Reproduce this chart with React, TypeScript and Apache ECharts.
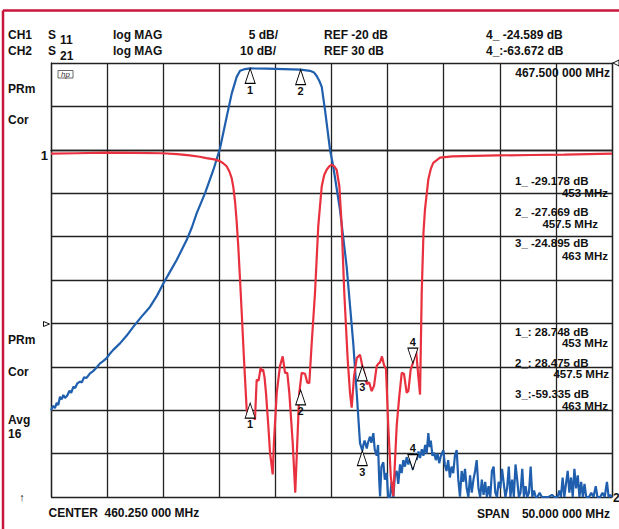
import React, { useEffect, useRef } from "react";
import * as echarts from "echarts";

// Sweep: CENTER 460.25 MHz, SPAN 50 MHz
const CENTER = 460.25;
const SPAN = 50;
const START = CENTER - SPAN / 2;

// CH1: S11 log MAG, 5 dB/div, REF -20 dB
const s11Freq = [
  435.25, 437.5, 440.2, 442.5, 445.2, 446.5, 447.6, 448.5, 449.1, 449.8, 450.3, 450.6, 450.9, 451.15,
  451.36, 451.5, 451.65, 451.8, 451.94, 452.1, 452.25, 452.45, 452.69, 452.92, 453.14, 453.3, 453.43,
  453.58, 453.75, 453.94, 454.05, 454.15, 454.28, 454.41, 454.62, 454.77, 455.01, 455.12, 455.37,
  455.66, 455.9, 456.11, 456.31, 456.49, 456.79, 457.02, 457.2, 457.38, 457.59, 457.89, 458.09,
  458.27, 458.49, 458.78, 459.07, 459.38, 459.6, 459.82, 460.05, 460.27, 460.5, 460.71, 460.95,
  461.16, 461.39, 461.69, 461.9, 462.05, 462.26, 462.5, 462.79, 463.0, 463.21, 463.39, 463.6,
  463.83, 464.04, 464.28, 464.45, 464.57, 464.75, 464.93, 465.11, 465.31, 465.53, 465.76, 466.06,
  466.29, 466.51, 466.71, 466.95, 467.1, 467.31, 467.5, 467.78, 467.99, 468.14, 468.29, 468.45,
  468.58, 468.88, 469.1, 469.32, 469.92, 471, 473, 475, 478, 481, 485.25,
];
const s11Db = [
  -0.45, -0.4, -0.33, -0.35, -0.4, -0.5, -0.65, -0.8, -0.95, -1.1, -1.3, -1.55, -1.9, -2.5,
  -3.3, -4.3, -5.9, -8.3, -11.1, -15.0, -18.8, -24.1, -29.9, -30.9, -30.3, -30.7, -31.1,
  -26.5, -26.6, -25.1, -25.5, -25.3, -26.2, -28.0, -31.8, -34.9, -37.4, -33.7, -28.0,
  -24.9, -23.8, -25.7, -25.7, -28.0, -33.7, -39.5, -33.7, -28.0, -25.7, -25.8, -26.8,
  -26.9, -22.2, -16.5, -8.8, -4.2, -2.9, -2.3, -1.9, -1.7, -1.9, -2.3, -4.2,
  -8.8, -16.5, -24.1, -28.0, -29.7, -26.1, -24.0, -23.6, -24.9, -25.9, -27.0, -26.8,
  -27.8, -27.2, -24.9, -24.6, -24.5, -23.8, -24.8, -25.3, -31.8, -37.6, -39.9, -31.8,
  -28.4, -25.7, -25.8, -28.0, -27.8, -25.3, -24.6, -23.0, -26.1, -28.2, -16.5, -9.5,
  -6.9, -3.4, -2.2, -1.5, -0.9, -0.75, -0.7, -0.65, -0.6, -0.55, -0.45,
];

// CH2: S21 log MAG, 10 dB/div, REF 30 dB
const s21Freq = [
  435.25, 435.45, 435.6, 435.76, 435.9, 436.05, 436.2, 436.35, 436.5, 436.7, 436.9, 437.05, 437.24,
  437.4, 437.6, 437.83, 438.0, 438.2, 438.4, 438.73, 439.0, 439.3, 439.62, 439.9, 440.21, 440.5,
  440.8, 441.4, 442.0, 442.58, 443.3, 444.07, 444.7, 445.26, 445.9, 446.45, 447.34, 447.8, 448.24,
  448.98, 449.72, 450.31, 450.91, 451.36, 451.8, 452.1, 452.54, 453, 454.5, 456, 457.5, 458.33,
  458.7, 458.93, 459.18, 459.38, 459.67, 460.12, 460.41, 461.01, 461.6, 462.19, 462.5, 462.79,
  463.0, 463.09, 463.2, 463.39, 463.5, 463.68, 463.8, 463.98, 464.1, 464.28, 464.4, 464.5, 464.58,
  464.7, 464.87, 465.0, 465.17, 465.3, 465.47, 465.6, 465.76, 465.9, 466.06, 466.2, 466.36, 466.5,
  466.65, 466.8, 466.95, 467.1, 467.25, 467.5, 467.7, 467.84, 468.0, 468.14, 468.3, 468.44, 468.6,
  468.73, 468.88, 469.0, 469.1, 469.25, 469.4, 469.55, 469.7, 469.85, 470.0, 470.22, 470.35, 470.5,
  470.65, 470.8, 470.95, 471.1, 471.25, 471.41, 471.55, 471.7, 471.85, 472.0, 472.15, 472.3, 472.45,
  472.6, 472.75, 472.9, 473.05, 473.19, 473.35, 473.5, 473.65, 473.8, 473.95, 474.1, 474.25, 474.4,
  474.55, 474.7, 474.85, 475.0, 475.15, 475.3, 475.45, 475.6, 475.75, 475.9, 476.05, 476.2, 476.35,
  476.5, 476.65, 476.8, 476.95, 477.1, 477.25, 477.4, 477.55, 477.7, 477.85, 478.0, 478.15, 478.3,
  478.45, 478.6, 478.8, 479.0, 479.3, 479.6, 479.9, 480.1, 480.4, 480.55, 480.7, 480.85, 481.0,
  481.15, 481.3, 481.45, 481.6, 481.75, 481.9, 482.05, 482.2, 482.35, 482.5, 482.65, 482.8, 482.95,
  483.2, 483.4, 483.6, 483.8, 483.95, 484.2, 484.4, 484.6, 484.8, 484.95, 485.1, 485.25,
];
const s21Db = [
  -50.0, -49.0, -49.5, -48.3, -48.8, -46.9, -47.5, -46.5, -47.2, -46.6, -45.5, -46.0, -44.6,
  -44.9, -43.8, -43.4, -43.6, -42.4, -42.6, -41.5, -41.0, -40.2, -39.2, -38.7, -38.0, -37.0,
  -36.1, -34.6, -32.8, -30.8, -28.5, -26.2, -23.6, -20.8, -17.9, -15.4, -10.8, -7.9, -4.6,
  0.0, 5.35, 10.3, 17.6, 23.0, 26.8, 28.2, 28.6, 28.748, 28.7, 28.6, 28.475, 28.2,
  27.8, 27.0, 25.8, 24.5, 19.2, 10.0, 6.1, -3.9, -16.9, -34.6, -46.1, -57.6,
  -59.3, -58.0, -57.0, -58.8, -57.5, -56.1, -57.5, -55.3, -59.0, -60.5, -58.0, -66.0, -69.9,
  -63.0, -62.0, -66.0, -64.5, -70, -70, -66.5, -70, -65.0, -64.0, -67.0, -62.5, -64.5,
  -61.5, -63.0, -60.8, -62.5, -61.2, -63.67, -60.0, -61.5, -59.5, -61.0, -59.0, -60.5, -58.0,
  -60.0, -55.3, -58.5, -57.0, -60.5, -59.8, -61.5, -60.0, -62.2, -60.5, -59.2, -62.5, -64.0,
  -61.5, -65.5, -63.0, -64.5, -60.5, -59.2, -66.0, -69.9, -64.0, -66.5, -63.5, -68.0, -70,
  -65.0, -69.0, -66.0, -64.0, -61.5, -68.0, -70, -66.0, -69.5, -66.5, -70, -67.5, -70,
  -64.0, -63.0, -69.0, -70, -66.5, -68.0, -63.5, -66.8, -70, -68.0, -63.0, -70, -66.0,
  -70, -62.5, -66.0, -70, -69.0, -63.5, -70, -67.5, -70, -69.0, -63.0, -70, -68.5,
  -70, -70, -69.0, -70, -70, -70, -69.5, -70, -70, -68.5, -70, -65.5, -70,
  -67.0, -64.0, -69.0, -65.5, -70, -63.5, -68.0, -65.0, -70, -66.5, -70, -67.0, -70,
  -70, -69.0, -70, -67.5, -70, -70, -69.0, -70, -66.5, -70, -69.5, -70,
];

// Markers
const markerNames = ["1", "2", "3", "4"];
const markerFreq = [453, 457.5, 463, 467.5];
const markerS11 = [-29.178, -27.669, -24.895, -24.589];
const markerS21 = [28.748, 28.475, -59.335, -63.672];

const RED = "#e8303e";
const BLUE = "#1f5fae";
const FONT = '"Liberation Sans", Arial, Helvetica, sans-serif';
const UP = "path://M5,0 L10,15 L0,15 Z";
const DOWN = "path://M0,0 L10,0 L5,15 Z";

function txt(text: string, x: number, y: number, size = 12, align = "left", weight = "bold") {
  return {
    type: "text",
    x,
    y,
    z: 100,
    style: {
      text,
      font: `${weight} ${size}px ${FONT}`,
      fill: "#111",
      textAlign: align,
      textVerticalAlign: "middle",
      align,
      verticalAlign: "middle",
    },
  };
}

function markerSeries(values: number[], yAxisIndex: number) {
  return {
    type: "scatter",
    yAxisIndex,
    z: 10,
    symbolSize: [10, 15],
    data: markerFreq.map((f, i) => {
      const down = i === 3;
      return {
        value: [f - START, values[i]],
        symbol: down ? DOWN : UP,
        symbolOffset: [0, down ? -7.5 : 7.5],
        label: {
          show: true,
          formatter: markerNames[i],
          position: down ? "top" : "bottom",
          distance: 0,
          color: "#111",
          fontFamily: FONT,
          fontWeight: "bold",
          fontSize: 11,
        },
      };
    }),
    itemStyle: { color: "#ffffff", borderColor: "#000", borderWidth: 1, opacity: 1 },
    silent: true,
  };
}

function fmtCh1(i: number) {
  return `${markerNames[i]}_ ${markerS11[i].toFixed(3)} dB`;
}
function fmtCh2(i: number) {
  const v = markerS21[i];
  return `${markerNames[i]}_:${v >= 0 ? " " : ""}${v.toFixed(3)} dB`;
}

export default function App() {
  const ref = useRef<HTMLDivElement>(null);
  useEffect(() => {
    if (!ref.current) return;
    const chart = echarts.init(ref.current, undefined, { renderer: "svg" });
    const gridLine = { color: "#222", width: 1.3 };
    const RS = 11.5; // readout font size
    const option: any = {
      animation: false,
      backgroundColor: "#ffffff",
      grid: { left: 51, top: 63, right: 7, bottom: 32, containLabel: false },
      xAxis: {
        type: "value",
        min: 0,
        max: SPAN,
        interval: 5,
        axisLine: { show: true, lineStyle: gridLine },
        axisTick: { show: false },
        axisLabel: { show: false },
        splitLine: { show: true, lineStyle: gridLine },
      },
      yAxis: [
        {
          type: "value",
          min: -40,
          max: 10,
          interval: 5,
          axisLine: { show: true, lineStyle: gridLine },
          axisTick: { show: false },
          axisLabel: { show: false },
          splitLine: { show: true, lineStyle: gridLine },
        },
        {
          type: "value",
          min: -70,
          max: 30,
          interval: 10,
          position: "right",
          axisLine: { show: true, lineStyle: gridLine },
          axisTick: { show: false },
          axisLabel: { show: false },
          splitLine: { show: false },
        },
      ],
      series: [
        {
          type: "line",
          yAxisIndex: 1,
          data: s21Freq.map((f, i) => [f - START, s21Db[i]]),
          showSymbol: false,
          symbol: "none",
          lineStyle: { color: BLUE, width: 2.2 },
          z: 3,
        },
        {
          type: "line",
          yAxisIndex: 0,
          data: s11Freq.map((f, i) => [f - START, s11Db[i]]),
          showSymbol: false,
          symbol: "none",
          lineStyle: { color: RED, width: 2.2 },
          z: 4,
        },
        markerSeries(markerS11, 0),
        markerSeries(markerS21, 1),
      ],
      graphic: [
        // frame
        { type: "line", shape: { x1: 3, y1: 10.5, x2: 619, y2: 10.5 }, style: { stroke: "#c8173d", lineWidth: 2.5 } },
        { type: "line", shape: { x1: 3, y1: 10.5, x2: 3, y2: 529 }, style: { stroke: "#c8173d", lineWidth: 2.5 } },
        // header
        txt("CH1", 8, 35),
        txt("CH2", 8, 51),
        txt("S", 48, 34.5),
        txt("11", 60, 39.5),
        txt("S", 48, 50.5),
        txt("21", 60, 55.5),
        txt("log MAG", 113, 35),
        txt("log MAG", 113, 51),
        txt("5 dB/", 278, 35, 12, "right"),
        txt("10 dB/", 276, 51, 12, "right"),
        txt("REF -20 dB", 324, 35),
        txt("REF 30 dB", 324, 51),
        txt(fmtCh1(3), 486, 35),
        txt(fmtCh2(3), 486, 51),
        txt(`${markerFreq[3].toFixed(3)} 000 MHz`, 610, 73, 12, "right"),
        // left annotations
        txt("PRm", 8, 89),
        txt("Cor", 8, 120),
        txt("1", 48, 155, 13, "right"),
        txt("PRm", 8, 340),
        txt("Cor", 8, 371.5),
        txt("Avg", 8, 420),
        txt("16", 8, 434),
        txt("\u2191", 22, 497, 11, "center", "normal"),
        // ch1 marker readouts
        txt(fmtCh1(0), 515, 180.5, RS),
        txt(`${markerFreq[0]} MHz`, 608, 192.5, RS, "right"),
        txt(fmtCh1(1), 515, 211.5, RS),
        txt(`${markerFreq[1]} MHz`, 598, 224, RS, "right"),
        txt(fmtCh1(2), 515, 243, RS),
        txt(`${markerFreq[2]} MHz`, 608, 255.5, RS, "right"),
        // ch2 marker readouts
        txt(fmtCh2(0), 515, 331.5, RS),
        txt(`${markerFreq[0]} MHz`, 608, 343, RS, "right"),
        txt(fmtCh2(1), 515, 363, RS),
        txt(`${markerFreq[1]} MHz`, 609, 373.5, RS, "right"),
        txt(fmtCh2(2), 515, 394, RS),
        txt(`${markerFreq[2]} MHz`, 608, 405.5, RS, "right"),
        // footer
        txt(`CENTER  ${CENTER.toFixed(3)} 000 MHz`, 48.5, 513),
        txt("SPAN", 477, 514),
        txt(`${SPAN.toFixed(3)} 000 MHz`, 610, 514, 12, "right"),
        txt("2", 613, 498),
        // reference markers
        {
          type: "polygon",
          z: 100,
          shape: { points: [[43.5, 321.5], [49.5, 324], [43.5, 326.5]] },
          style: { fill: "#fff", stroke: "#111", lineWidth: 1 },
        },
        {
          type: "polygon",
          z: 100,
          shape: { points: [[619, 60], [613, 63], [619, 66]] },
          style: { fill: "#fff", stroke: "#111", lineWidth: 1 },
        },
        // hp logo
        {
          type: "rect",
          z: 100,
          shape: { x: 58, y: 70.5, width: 15, height: 7.5 },
          style: { fill: "none", stroke: "#444", lineWidth: 0.8 },
        },
        {
          type: "text",
          z: 101,
          x: 65.5,
          y: 74.5,
          style: {
            text: "hp",
            font: `italic 8px ${FONT}`,
            fill: "#333",
            textAlign: "center",
            textVerticalAlign: "middle",
            align: "center",
            verticalAlign: "middle",
          },
        },
      ],
    };
    chart.setOption(option);
    return () => chart.dispose();
  }, []);
  return (
    <div
      ref={ref}
      style={{ position: "fixed", left: 0, top: 0, width: 619, height: 529, background: "#fff" }}
    />
  );
}
